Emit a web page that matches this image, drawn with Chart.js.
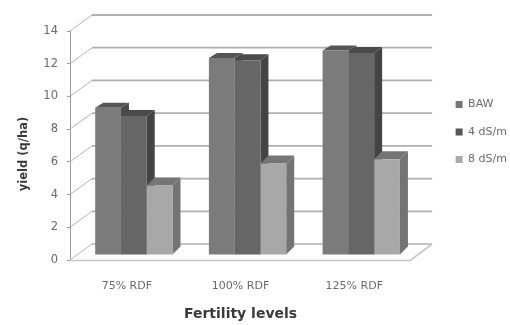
<!DOCTYPE html>
<html><head><meta charset="utf-8">
<style>html,body{margin:0;padding:0;background:#fff}canvas{display:block;filter:blur(0.7px)}</style>
<script src="https://cdn.jsdelivr.net/npm/chart.js@4"></script></head>
<body><canvas id="c" width="510" height="325"></canvas>
<script>
const categories = ["75% RDF","100% RDF","125% RDF"];
const baw = [9.0,12.05,12.5];
const ds4 = [8.5,11.9,12.35];
const ds8 = [4.25,5.6,5.85];
const seriesNames = ["BAW","4 dS/m","8 dS/m"];
const yTitle = "yield (q/ha)";
const frontColors = ["#7b7b7b","#666666","#a8a8a8"];
const topColors = ["#565656","#4a4a4a","#757575"];
const sideColors = ["#4a4a4a","#444444","#747474"];
const legendColors = ["#777777","#575757","#ababab"];
const FONT = "'DejaVu Sans'";
const wallDx = 22, wallDy = -16, barDx = 7, barDy = -5, depthX = 8;
const depthYs = [5,6,8];
const legendShiftX = 28, legendShiftY = -45;

const threeD = {
  id:'threeD',
  afterLayout(chart){
    const l = chart.legend;
    l.left += legendShiftX; l.right += legendShiftX;
    l.top += legendShiftY; l.bottom += legendShiftY;
  },
  beforeDatasetsDraw(chart){
    const {ctx,scales:{x,y},chartArea:a} = chart;
    ctx.save();
    y.ticks.forEach(t=>{
      const py = y.getPixelForValue(t.value);
      ctx.strokeStyle = '#b4b4b4'; ctx.lineWidth = 1;
      ctx.beginPath(); ctx.moveTo(a.left,py); ctx.lineTo(a.left+wallDx,py+wallDy); ctx.stroke();
      ctx.strokeStyle = t.value===0 ? '#8a8a8a' : '#b0b0b0'; ctx.lineWidth = t.value===0 ? 1 : 1.8;
      ctx.beginPath(); ctx.moveTo(a.left+wallDx,py+wallDy); ctx.lineTo(a.right+wallDx-1,py+wallDy); ctx.stroke();
    });
    const b = a.bottom;
    ctx.strokeStyle='#c6c6c6'; ctx.lineWidth=1.6;
    ctx.beginPath(); ctx.moveTo(a.left,b+0.5); ctx.lineTo(a.right-1,b+0.5); ctx.lineTo(a.right+wallDx-1,b+wallDy); ctx.stroke();
    chart.data.datasets.forEach((ds,i)=>{
      const dy = depthYs[i];
      chart.getDatasetMeta(i).data.forEach(el=>{
        const l = el.x-el.width/2+barDx, r = el.x+el.width/2+barDx, t = el.y+barDy, bt = el.base+barDy;
        ctx.fillStyle = sideColors[i];
        ctx.beginPath(); ctx.moveTo(r,t); ctx.lineTo(r+depthX,t-dy); ctx.lineTo(r+depthX,bt-dy); ctx.lineTo(r,bt); ctx.closePath(); ctx.fill();
        ctx.fillStyle = topColors[i];
        ctx.beginPath(); ctx.moveTo(l,t); ctx.lineTo(l+depthX,t-dy); ctx.lineTo(r+depthX,t-dy); ctx.lineTo(r,t); ctx.closePath(); ctx.fill();
      });
    });
    ctx.restore();
    ctx.save();
    ctx.translate(barDx,barDy);
  },
  afterDatasetsDraw(chart){ chart.ctx.restore(); },
  afterDraw(chart){
    const ctx = chart.ctx;
    ctx.save();
    ctx.translate(24,154); ctx.rotate(-Math.PI/2);
    ctx.font = "bold 11.5px "+FONT; ctx.fillStyle='#3a3a3a';
    ctx.textAlign='center'; ctx.textBaseline='middle';
    ctx.fillText(yTitle,0,0);
    ctx.restore();
  }
};

const series = [baw,ds4,ds8];
new Chart(document.getElementById('c'),{
  type:'bar',
  data:{labels:categories,datasets:series.map((d,i)=>({
    label:seriesNames[i],data:d,backgroundColor:frontColors[i],borderWidth:0,
    categoryPercentage:0.68,barPercentage:1}))},
  plugins:[threeD],
  options:{
    responsive:false,animation:false,
    layout:{padding:{top:31,right:21,left:18,bottom:2}},
    plugins:{
      tooltip:{enabled:false},
      legend:{position:'right',
        labels:{generateLabels:()=>seriesNames.map((n,i)=>({text:n,fillStyle:legendColors[i],strokeStyle:legendColors[i],fontColor:'#6a6a6a',lineWidth:0,datasetIndex:i})),
          boxWidth:7,boxHeight:7,padding:16.5,color:'#6a6a6a',font:{family:FONT,size:11}}}
    },
    scales:{
      x:{grid:{display:false,drawTicks:false},border:{display:false},
        afterFit(s){s.height=63;},
        ticks:{color:'#6a6a6a',font:{family:FONT,size:11},padding:20,maxRotation:0},
        title:{display:true,text:'Fertility levels',color:'#3a3a3a',font:{family:FONT,size:14,weight:'bold'},padding:{top:10,bottom:0}}},
      y:{min:0,max:14,
        afterFit(s){s.width=52;},
        grid:{drawOnChartArea:false,color:'#999',tickLength:3},
        border:{color:'#999',width:1},
        ticks:{stepSize:2,color:'#6a6a6a',font:{family:FONT,size:11.5},padding:9}}
    }
  }
});
</script></body></html>
